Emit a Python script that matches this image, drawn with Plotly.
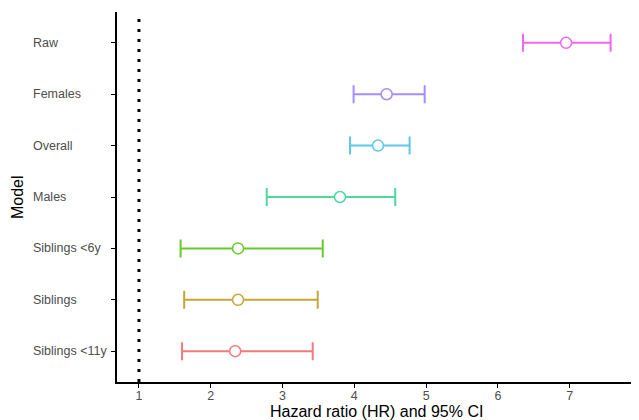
import plotly.graph_objects as go

models = ["Siblings <11y", "Siblings", "Siblings <6y", "Males", "Overall", "Females", "Raw"]
hr = [2.34, 2.38, 2.38, 3.80, 4.33, 4.45, 6.95]
ci_low = [1.60, 1.63, 1.58, 2.78, 3.94, 3.99, 6.35]
ci_high = [3.42, 3.49, 3.56, 4.57, 4.77, 4.98, 7.57]
colors = ["#F47A78", "#C6A637", "#66C92C", "#4ED89E", "#5BC6EE", "#A68BFF", "#F266E8"]
x_ticks = [1, 2, 3, 4, 5, 6, 7]

fig = go.Figure()
for i, m in enumerate(models):
    fig.add_trace(go.Scatter(
        x=[hr[i]], y=[i + 1], mode="markers",
        marker=dict(symbol="circle", size=11, color="white",
                    line=dict(color=colors[i], width=1.5)),
        error_x=dict(type="data", symmetric=False,
                     array=[ci_high[i] - hr[i]], arrayminus=[hr[i] - ci_low[i]],
                     color=colors[i], thickness=2, width=9),
        showlegend=False, name=m,
    ))

fig.add_shape(type="line", xref="x", yref="paper", x0=1, x1=1, y0=0, y1=1,
              line=dict(color="black", width=3, dash="3px,7px"))

for i, m in enumerate(models):
    fig.add_annotation(text=m, xref="paper", yref="y", x=-0.166, y=i + 1,
                       xanchor="left", yanchor="middle", showarrow=False,
                       font=dict(size=12.5, color="#4D4D4D"))

fig.add_annotation(text="Hazard ratio (HR) and 95% CI", xref="paper", yref="paper",
                   x=0.5, y=-0.081, xanchor="center", yanchor="middle", showarrow=False,
                   font=dict(size=16, color="black"))
fig.add_annotation(text="Model", xref="paper", yref="paper", textangle=-90,
                   x=-0.193, y=0.5, xanchor="center", yanchor="middle", showarrow=False,
                   font=dict(size=16, color="black"))

fig.update_layout(
    width=631, height=412,
    margin=dict(l=109, r=4, t=4, b=38),
    plot_bgcolor="white", paper_bgcolor="white",
    font=dict(family="Liberation Sans, Arial, sans-serif"),
    xaxis=dict(range=[0.694, 7.91], tickvals=x_ticks, showgrid=False, zeroline=False,
               automargin=False,
               showline=True, linecolor="black", linewidth=1.5,
               ticks="outside", ticklen=4, tickcolor="black",
               ticklabelstandoff=-3,
               tickfont=dict(size=12.5, color="#4D4D4D")),
    yaxis=dict(range=[0.4, 7.6], tickvals=list(range(1, 8)), showticklabels=False,
               showgrid=False, zeroline=False, automargin=False,
               showline=True, linecolor="black", linewidth=1.5,
               ticks="outside", ticklen=4, tickcolor="black"),
)

fig.write_html("out.html")
